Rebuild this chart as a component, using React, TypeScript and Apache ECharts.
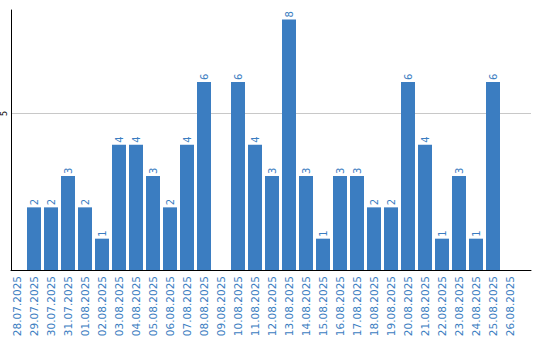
import React, { useEffect, useRef } from "react";
import * as echarts from "echarts";

const categories = [
  "28.07.2025", "29.07.2025", "30.07.2025", "31.07.2025", "01.08.2025",
  "02.08.2025", "03.08.2025", "04.08.2025", "05.08.2025", "06.08.2025",
  "07.08.2025", "08.08.2025", "09.08.2025", "10.08.2025", "11.08.2025",
  "12.08.2025", "13.08.2025", "14.08.2025", "15.08.2025", "16.08.2025",
  "17.08.2025", "18.08.2025", "19.08.2025", "20.08.2025", "21.08.2025",
  "22.08.2025", "23.08.2025", "24.08.2025", "25.08.2025", "26.08.2025",
];
const values = [
  0, 2, 2, 3, 2, 1, 4, 4, 3, 2, 4, 6, 0, 6, 4, 3, 8, 3, 1, 3, 3, 2, 2, 6, 4, 1, 3, 1, 6, 0,
];
const yMax = 8.3;
const yTickInterval = 5;

const BLUE = "#3b7dc1";
const FONT = "DejaVu Sans";

export default function App() {
  const ref = useRef<HTMLDivElement>(null);
  useEffect(() => {
    if (!ref.current) return;
    const chart = echarts.init(ref.current, undefined, { renderer: "svg" });
    chart.setOption({
      animation: false,
      grid: [
        { left: 10, right: 9, top: 10, bottom: 70 },
        { left: 8.5, width: 510, top: 10, bottom: 70 },
      ],
      xAxis: [
        {
          gridIndex: 0,
          type: "value",
          min: 0,
          max: 1,
          axisLine: { show: true, lineStyle: { color: "#000", width: 1 } },
          axisTick: { show: false },
          axisLabel: { show: false },
          splitLine: { show: false },
        },
        {
          gridIndex: 1,
          type: "category",
          data: categories,
          boundaryGap: true,
          axisLine: { show: false },
          axisTick: { show: false },
          axisLabel: {
            rotate: 90,
            interval: 0,
            margin: 6,
            color: BLUE,
            fontFamily: FONT,
            fontSize: 10.5,
          },
        },
      ],
      yAxis: [
        {
          gridIndex: 0,
          type: "value",
          min: 0,
          max: yMax,
          interval: yTickInterval,
          axisLine: { show: true, lineStyle: { color: "#000", width: 1 } },
          axisTick: { show: false },
          axisLabel: {
            rotate: 90,
            margin: 3,
            color: "#000",
            fontFamily: FONT,
            fontSize: 8,
            showMinLabel: false,
            showMaxLabel: false,
          },
          splitLine: {
            show: true,
            showMinLine: false,
            showMaxLine: false,
            lineStyle: { color: "#c8c8c8", width: 1 },
          },
        },
        {
          gridIndex: 1,
          type: "value",
          min: 0,
          max: yMax,
          show: false,
          splitLine: { show: false },
        },
      ],
      series: [
        {
          type: "bar",
          xAxisIndex: 1,
          yAxisIndex: 1,
          data: values,
          barWidth: 14,
          itemStyle: { color: BLUE },
          label: {
            show: true,
            position: "top",
            rotate: 90,
            align: "left",
            verticalAlign: "middle",
            distance: 2,
            color: BLUE,
            fontFamily: FONT,
            fontSize: 10,
            formatter: (p: any) => (p.value ? String(p.value) : ""),
          },
        },
      ],
    });
    return () => chart.dispose();
  }, []);
  return <div ref={ref} style={{ width: 540, height: 340, position: "absolute", left: 0, top: 0 }} />;
}
